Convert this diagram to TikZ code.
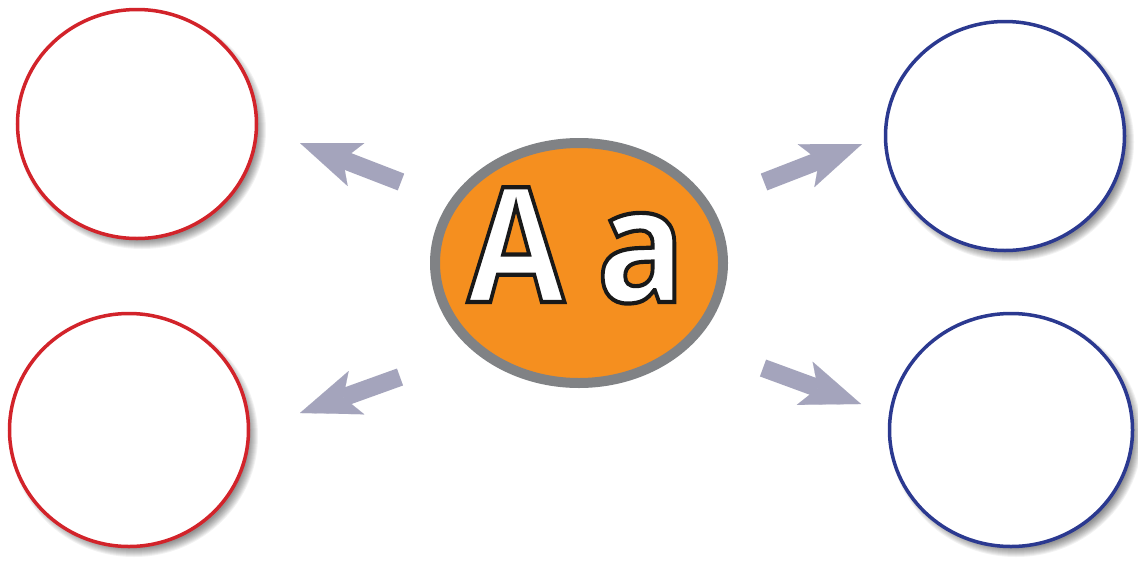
\documentclass[tikz,border=0pt]{standalone}
\usepackage{fontspec}
\newfontfamily\aafont{Open Sans}[BoldFeatures={FakeBold=2.6}, UprightFeatures={FakeBold=2.6}]
\usetikzlibrary{shapes.geometric,arrows.meta}
\definecolor{cred}{HTML}{D2232A}
\definecolor{cblue}{HTML}{2B3990}
\definecolor{corange}{HTML}{F58F1F}
\definecolor{cgray}{HTML}{808285}
\definecolor{carrow}{HTML}{A4A4BC}
\newcommand{\strokeblack}{\special{pdf:literal direct 0.1 0.1 0.1 RG}}
\tikzset{
  bubble/.style={ellipse, draw, line width=3.5pt, fill=white, inner sep=0pt},
  redbubble/.style={bubble, draw=cred},
  bluebubble/.style={bubble, draw=cblue},
  hub/.style={ellipse, draw=cgray, fill=corange, line width=10pt, inner sep=0pt,
    minimum width=288pt, minimum height=240pt},
  blockarrow/.style={draw=carrow, line width=18pt,
    -{Stealth[length=60pt, width=46pt, inset=14pt, line width=0.1pt, fill=carrow]}},
  letter/.style={font=\aafont\bfseries\fontsize{160}{160}\selectfont, inner sep=0pt, anchor=base, text=white},
}
\newcommand{\softshadow}[3]{%
  \foreach \k in {0,...,9}{
    \fill[black, opacity=0.05] ([shift={(5,6)}]#1.center) ellipse [x radius=#2-6+\k, y radius=#3-6+\k];
  }}
\begin{document}
\begin{tikzpicture}[x=1pt,y=-1pt]
\useasboundingbox (0,0) rectangle (1138,560);
\fill[white] (0,0) rectangle (1138,560);
% coordinates for bubbles
\coordinate (ctl) at (137,124);
\coordinate (cbl) at (129,430);
\coordinate (ctr) at (1005,136);
\coordinate (cbr) at (1011,430);
% shadows
\softshadow{ctl}{121}{116}
\softshadow{cbl}{121}{118}
\softshadow{ctr}{121}{116}
\softshadow{cbr}{123}{118}
% bubbles
\node[redbubble, minimum width=239pt, minimum height=229pt] (tl) at (ctl) {};
\node[redbubble, minimum width=239pt, minimum height=233pt] (bl) at (cbl) {};
\node[bluebubble, minimum width=239pt, minimum height=229pt] (tr) at (ctr) {};
\node[bluebubble, minimum width=243pt, minimum height=233pt] (br) at (cbr) {};
% hub
\node[hub] (hub) at (579,263) {};
\node[letter] (lA) at (516,302) {\scalebox{0.88}[1]{\strokeblack A}};
\node[letter] (la) at (641,302) {\scalebox{0.92}[1]{\strokeblack a}};
% arrows
\coordinate (tlTail) at (401,182);
\coordinate (tlTip) at (300,143);
\coordinate (blTail) at (400,377);
\coordinate (blTip) at (300,413);
\coordinate (trTail) at (764,182);
\coordinate (trTip) at (862,144);
\coordinate (brTail) at (763,368);
\coordinate (brTip) at (861,404);
\draw[blockarrow] (tlTail) -- (tlTip);
\draw[blockarrow] (blTail) -- (blTip);
\draw[blockarrow] (trTail) -- (trTip);
\draw[blockarrow] (brTail) -- (brTip);
\end{tikzpicture}
\end{document}
